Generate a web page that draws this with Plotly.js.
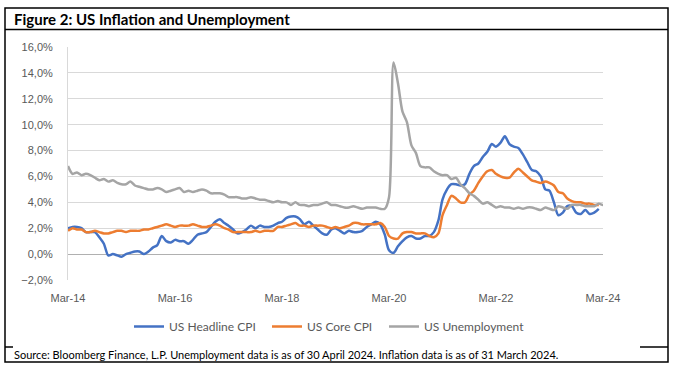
<!DOCTYPE html>
<html>
<head>
<meta charset="utf-8">
<script src="https://cdn.plot.ly/plotly-3.0.1.min.js"></script>
<style>html,body{margin:0;padding:0;background:#fff;}#chart{width:678px;height:369px;}</style>
</head>
<body>
<div id="chart"></div>
<script>
// ---- data (% values) ----
var headlineCPI = [2.0,2.1,2.1,2.0,1.7,1.7,1.7,1.3,0.8,
  -0.1,0.0,-0.1,-0.2,0.0,0.1,0.2,0.2,0.0,0.2,0.5,0.7,
  1.4,1.0,0.9,1.1,1.0,1.0,0.8,1.1,1.5,1.6,1.7,2.1,
  2.5,2.7,2.4,2.2,1.9,1.6,1.7,1.9,2.2,2.0,2.2,2.1,
  2.1,2.2,2.4,2.5,2.8,2.9,2.9,2.7,2.3,2.5,2.2,1.9,
  1.6,1.5,1.9,2.0,1.8,1.6,1.8,1.7,1.7,1.8,2.1,2.3,
  2.5,2.3,1.5,0.3,0.1,0.6,1.0,1.3,1.4,1.2,1.2,1.4,
  1.4,1.7,2.6,4.2,5.0,5.4,5.4,5.3,5.4,6.2,6.8,7.0,
  7.5,7.9,8.5,8.3,8.6,9.1,8.5,8.3,8.2,7.7,7.1,6.5,
  6.4,6.0,5.0,4.9,4.0,3.0,3.2,3.7,3.7,3.2,3.1,3.4,
  3.1,3.2,3.5];
var coreCPI = [1.8,2.0,1.9,1.9,1.7,1.7,1.8,1.7,1.6,
  1.6,1.7,1.8,1.8,1.7,1.8,1.8,1.8,1.9,1.9,2.0,2.1,
  2.2,2.3,2.2,2.1,2.2,2.2,2.2,2.3,2.2,2.1,2.1,2.2,
  2.3,2.2,2.0,1.9,1.7,1.7,1.7,1.7,1.7,1.8,1.7,1.8,
  1.8,1.8,2.1,2.1,2.2,2.3,2.4,2.2,2.2,2.1,2.2,2.2,
  2.2,2.1,2.0,2.1,2.0,2.1,2.2,2.4,2.4,2.3,2.3,2.3,
  2.3,2.4,2.1,1.4,1.2,1.2,1.6,1.7,1.7,1.6,1.6,1.6,
  1.4,1.3,1.6,3.0,3.8,4.5,4.3,4.0,4.0,4.6,4.9,5.5,
  6.0,6.4,6.5,6.2,6.0,5.9,5.9,6.3,6.6,6.3,6.0,5.7,
  5.6,5.5,5.6,5.5,5.3,4.8,4.7,4.3,4.1,4.0,4.0,3.9,
  3.9,3.8,3.8];
var unemployment = [6.8,6.2,6.3,6.1,6.2,6.1,5.9,5.7,5.8,5.6,
  5.7,5.5,5.4,5.4,5.6,5.3,5.2,5.1,5.0,5.0,5.1,5.0,
  4.8,4.9,5.0,5.1,4.8,4.9,4.8,4.9,5.0,4.9,4.7,4.7,
  4.7,4.6,4.4,4.4,4.4,4.3,4.3,4.4,4.3,4.2,4.2,4.1,
  4.0,4.1,4.0,4.0,3.8,4.0,3.8,3.8,3.7,3.8,3.8,3.9,
  4.0,3.8,3.8,3.7,3.6,3.6,3.7,3.6,3.5,3.6,3.6,3.6,
  3.5,3.5,4.4,14.8,13.2,11.0,10.2,8.4,7.8,6.8,6.7,6.7,
  6.4,6.2,6.1,6.1,5.8,5.9,5.4,5.1,4.7,4.5,4.2,3.9,
  4.0,3.8,3.6,3.7,3.6,3.6,3.5,3.6,3.5,3.6,3.6,3.5,
  3.4,3.6,3.5,3.4,3.7,3.6,3.5,3.8,3.8,3.8,3.7,3.7,
  3.7,3.9,3.8,3.9];
var tickDates = ['2014-03-01','2016-03-01','2018-03-01','2020-03-01','2022-03-01','2024-03-01'];
var tickLabels = ['Mar-14','Mar-16','Mar-18','Mar-20','Mar-22','Mar-24'];
var seriesNames = ['US Headline CPI','US Core CPI','US Unemployment'];
var titleText = 'Figure 2: US Inflation and Unemployment';
var sourceText = 'Source: Bloomberg Finance, L.P. Unemployment data is as of 30 April 2024. Inflation data is as of 31 March 2024.';

// monthly date categories starting Mar-2014
function months(n){
  var out=[], y=2014, m=3;
  for(var i=0;i<n;i++){
    out.push(y+'-'+(m<10?'0':'')+m+'-01');
    m++; if(m>12){m=1;y++;}
  }
  return out;
}

var colors = ['#4472C4','#ED7D31','#A5A5A5'];
var legendIds = ['legend','legend2','legend3'];
function tr(vals, i){
  return {x: months(vals.length), y: vals, name: seriesNames[i], type:'scatter', mode:'lines',
    legend: legendIds[i],
    line:{color:colors[i], width:2.5, shape:'spline', smoothing:0.8}, hoverinfo:'skip'};
}
var data = [tr(headlineCPI,0), tr(coreCPI,1), tr(unemployment,2)];

// pixel -> paper helpers (plot area x 68..603, y 47..280)
var L=68, R=603, T=47, B=280;
function px(x){return (x-L)/(R-L);}
function py(y){return (B-y)/(B-T);}
var blk = {color:'#000', width:1.5};
function leg(xpix){
  return {orientation:'h', x:px(xpix), xanchor:'left', y:py(326.5), yanchor:'middle',
    font:{family:'Lato, sans-serif', size:12, color:'#595959'}, bgcolor:'rgba(0,0,0,0)'};
}

var layout = {
  width:678, height:369,
  margin:{l:L, r:678-R, t:T, b:369-B, pad:0},
  paper_bgcolor:'#fff', plot_bgcolor:'#fff',
  separators:',.',
  font:{family:'Liberation Sans, Arial, sans-serif', size:11, color:'#595959'},
  showlegend:true,
  legend:leg(129), legend2:leg(267), legend3:leg(384),
  xaxis:{type:'date', range:['2014-03-01','2024-03-01'], tickmode:'array',
    tickvals:tickDates, ticktext:tickLabels, showgrid:false, zeroline:false, showline:false,
    ticks:'', ticklabelstandoff:10, fixedrange:true},
  yaxis:{range:[-2,16], dtick:2, tick0:0, tickformat:'.1f', ticksuffix:'%',
    showgrid:true, gridcolor:'#d9d9d9', gridwidth:1,
    zeroline:true, zerolinecolor:'#b0b0b0', zerolinewidth:1,
    showline:true, linecolor:'#d9d9d9', linewidth:1,
    ticks:'', ticklabelstandoff:12, fixedrange:true},
  shapes:[
    {type:'rect', xref:'paper', yref:'paper', x0:px(5), x1:px(668), y0:py(8), y1:py(362), line:blk, fillcolor:'rgba(0,0,0,0)'},
    {type:'line', xref:'paper', yref:'paper', x0:px(5), x1:px(668), y0:py(29.5), y1:py(29.5), line:blk},
    {type:'line', xref:'paper', yref:'paper', x0:px(5), x1:px(13), y0:py(347), y1:py(347), line:blk},
    {type:'line', xref:'paper', yref:'paper', x0:px(640), x1:px(668), y0:py(347), y1:py(347), line:blk}
  ],
  annotations:[
    {text:'<b>'+titleText+'</b>', xref:'paper', yref:'paper', x:px(12), y:py(19.5),
      xanchor:'left', yanchor:'middle', showarrow:false,
      font:{family:'Lato, Open Sans, sans-serif', size:15, color:'#000'}},
    {text:sourceText, xref:'paper', yref:'paper', x:px(12), y:py(354.5),
      xanchor:'left', yanchor:'middle', showarrow:false,
      font:{family:'Lato, sans-serif', size:11, color:'#000'}}
  ]
};
Plotly.newPlot('chart', data, layout, {staticPlot:true, displayModeBar:false});
</script>
</body>
</html>
